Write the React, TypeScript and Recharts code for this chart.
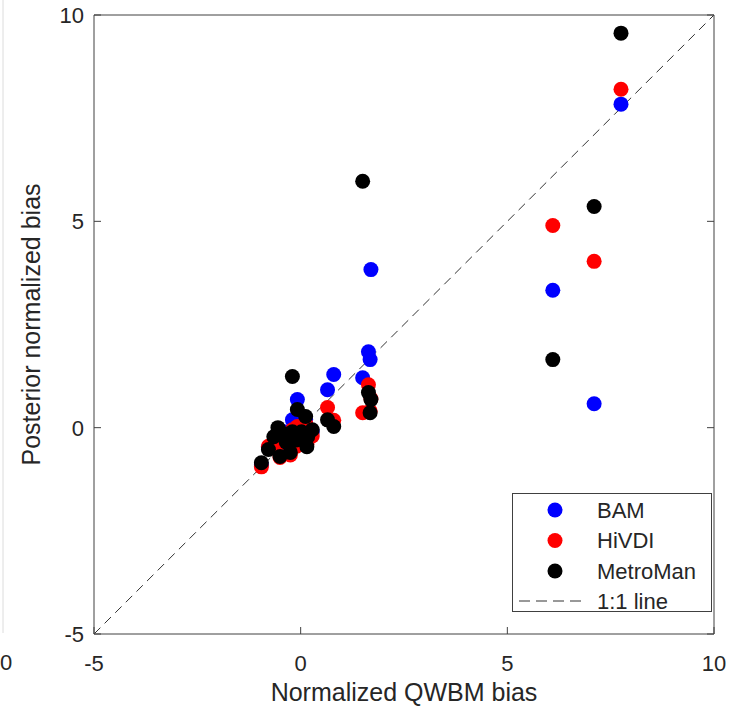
import React from 'react'
import { Legend, ReferenceLine, Scatter, ScatterChart, XAxis, YAxis } from 'recharts';

// shared x values (QWBM) and each algorithm's posterior bias at the same reach
const qwbmBias = [7.75, 7.1, 6.1, 1.5, 1.7, 1.64, 1.68, 0.8, 0.65, -0.2, -0.08, 0.12, -0.95,
    -0.55, -0.65, -0.78, -0.5, -0.25, 0.17, 0.15, -0.1, -0.35, 0.02, -0.4, -0.2, 0.28];
const bamBias = [7.84, 0.58, 3.33, 1.21, 3.83, 1.84, 1.65, 1.29, 0.92, 0.19, 0.68, 0.2, -0.9,
    -0.3, -0.46, -0.48, -0.55, -0.4, -0.1, -0.35, -0.2, -0.25, 0.05, -0.1, -0.15, -0.1];
const hivdiBias = [8.2, 4.03, 4.9, 0.36, 0.7, 1.04, 0.4, 0.18, 0.49, -0.05, 0.03, 0.1, -0.95,
    -0.4, -0.5, -0.45, -0.72, -0.66, -0.25, -0.4, -0.45, -0.36, -0.02, -0.2, -0.3, -0.2];
const metroManBias = [9.56, 5.36, 1.65, 5.97, 0.68, 0.85, 0.36, 0.03, 0.19, 1.24, 0.44, 0.27, -0.85,
    0.0, -0.22, -0.53, -0.7, -0.6, -0.22, -0.46, -0.3, -0.35, -0.1, -0.15, -0.1, -0.05];

const seriesNames = ['BAM', 'HiVDI', 'MetroMan'];
const seriesColors = ['#0000ff', '#ff0000', '#000000'];
const axisTicks = [-5, 0, 5, 10];
const axisDomain = [-5, 10];
const oneToOne = [-5, 10];

const FONT = '"Liberation Sans", Arial, sans-serif';
const AXIS = '#404040';
const TEXT = '#262626';
const TICK_GAP = 21;

const toPoints = (ys: number[]) => qwbmBias.map((x, i) => ({ x, y: ys[i] }));

const Dot = (color: string) => (props: any) => <circle cx={props.cx} cy={props.cy} r={7.5} fill={color} />;

const EmptyTick = () => <g />;

// bottom labels, with the tick drawn pointing into the plot
const BottomTick = ({ x, y, payload }: any) => (
    <g>
        <line x1={x} x2={x} y1={y - TICK_GAP} y2={y - TICK_GAP - 7} stroke={AXIS} />
        <text x={x} y={y} dy={16} textAnchor="middle" fontSize={22} fontFamily={FONT} fill={TEXT}>{payload.value}</text>
    </g>
);

const LeftTick = ({ x, y, payload }: any) => (
    <g>
        <line x1={x + 10} x2={x + 17} y1={y} y2={y} stroke={AXIS} />
        <text x={x} y={y} dy={8} textAnchor="end" fontSize={22} fontFamily={FONT} fill={TEXT}>{payload.value}</text>
    </g>
);

const XLabel = ({ viewBox }: any) => (
    <text x={viewBox.x + viewBox.width / 2} y={viewBox.y + 67} textAnchor="middle" fontSize={25} fontFamily={FONT} fill={TEXT}>
        Normalized QWBM bias
    </text>
);

const YLabel = ({ viewBox }: any) => {
    const cx = viewBox.x + 31;
    const cy = viewBox.y + viewBox.height / 2;
    return (
        <text x={cx} y={cy} transform={`rotate(-90 ${cx} ${cy})`} textAnchor="middle" dominantBaseline="central"
            fontSize={25} fontFamily={FONT} fill={TEXT}>
            Posterior normalized bias
        </text>
    );
};

const LegendBox = () => (
    <svg width={200} height={119} style={{ display: 'block' }}>
        <rect x={0.5} y={0.5} width={199} height={118} fill="#fff" stroke={AXIS} />
        {seriesNames.map((name, i) => (
            <g key={name}>
                <circle cx={43} cy={17 + i * 30.5} r={7.5} fill={seriesColors[i]} />
                <text x={85} y={17 + i * 30.5} dominantBaseline="central" fontSize={22} fontFamily={FONT} fill={TEXT}>{name}</text>
            </g>
        ))}
        <line x1={7} x2={75} y1={108} y2={108} stroke="#333" strokeDasharray="11 6" />
        <text x={85} y={108} dominantBaseline="central" fontSize={22} fontFamily={FONT} fill={TEXT}>1:1 line</text>
    </svg>
);

export default function App() {
    const allSeries = [bamBias, hivdiBias, metroManBias];

    return (
        <div style={{ position: 'absolute', left: 0, top: 0, width: 732, height: 710, background: '#fff' }}>
            {/* bits of the neighbouring panel that were cropped into the figure */}
            <svg width={20} height={710} style={{ position: 'absolute', left: 0, top: 0 }}>
                <line x1={3} x2={3} y1={0} y2={633} stroke="#dcdcdc" />
                <text x={6} y={670} textAnchor="middle" fontSize={22} fontFamily={FONT} fill={TEXT}>0</text>
            </svg>
            <ScatterChart width={732} height={710} margin={{ top: 15, right: 18, bottom: 0, left: 0 }}>
                <XAxis type="number" dataKey="x" domain={axisDomain} ticks={axisTicks} allowDataOverflow height={76}
                    tickLine={false} tickSize={0} tickMargin={TICK_GAP} tick={BottomTick}
                    axisLine={{ stroke: AXIS }} label={<XLabel />} />
                <XAxis xAxisId="top" orientation="top" type="number" domain={axisDomain} ticks={axisTicks} allowDataOverflow
                    height={1} mirror tickSize={7} tick={EmptyTick} axisLine={{ stroke: AXIS }} tickLine={{ stroke: AXIS }} />
                <YAxis type="number" dataKey="y" domain={axisDomain} ticks={axisTicks} allowDataOverflow width={94}
                    tickLine={false} tickSize={0} tickMargin={10} tick={LeftTick}
                    axisLine={{ stroke: AXIS }} label={<YLabel />} />
                <YAxis yAxisId="right" orientation="right" type="number" domain={axisDomain} ticks={axisTicks} allowDataOverflow
                    width={1} mirror tickSize={7} tick={EmptyTick} axisLine={{ stroke: AXIS }} tickLine={{ stroke: AXIS }} />
                {allSeries.map((ys, i) => (
                    <Scatter key={seriesNames[i]} name={seriesNames[i]} data={toPoints(ys)} fill={seriesColors[i]}
                        shape={Dot(seriesColors[i])} isAnimationActive={false} />
                ))}
                <ReferenceLine segment={[{ x: oneToOne[0], y: oneToOne[0] }, { x: oneToOne[1], y: oneToOne[1] }]}
                    stroke="#333" strokeDasharray="9 6" ifOverflow="visible" />
                <Legend layout="vertical" align="center" verticalAlign="middle" content={LegendBox}
                    wrapperStyle={{ left: 512, top: 493, width: 200, height: 119 }} />
            </ScatterChart>
        </div>
    )
}
